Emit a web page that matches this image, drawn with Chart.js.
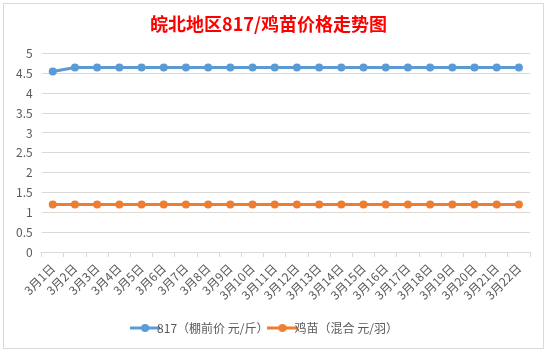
<!DOCTYPE html>
<html>
<head>
<meta charset="utf-8">
<script src="https://cdn.jsdelivr.net/npm/chart.js@4/dist/chart.umd.min.js"></script>
<style>
  html, body { margin: 0; padding: 0; background: #fff; }
  #wrap { position: absolute; left: 0; top: 0; width: 547px; height: 352px; }
</style>
</head>
<body>
<div id="wrap"><canvas id="c" width="547" height="352"></canvas></div>
<script>
const days = ['3月1日', '3月2日', '3月3日', '3月4日', '3月5日', '3月6日', '3月7日', '3月8日',
  '3月9日', '3月10日', '3月11日', '3月12日', '3月13日', '3月14日', '3月15日', '3月16日',
  '3月17日', '3月18日', '3月19日', '3月20日', '3月21日', '3月22日'];
const price817 = [4.55, 4.65, 4.65, 4.65, 4.65, 4.65, 4.65, 4.65, 4.65, 4.65, 4.65,
  4.65, 4.65, 4.65, 4.65, 4.65, 4.65, 4.65, 4.65, 4.65, 4.65, 4.65];
const priceChick = [1.2, 1.2, 1.2, 1.2, 1.2, 1.2, 1.2, 1.2, 1.2, 1.2, 1.2,
  1.2, 1.2, 1.2, 1.2, 1.2, 1.2, 1.2, 1.2, 1.2, 1.2, 1.2];
const seriesNames = ['817（棚前价 元/斤）', '鸡苗（混合 元/羽）'];
const yTicks = [0, 0.5, 1, 1.5, 2, 2.5, 3, 3.5, 4, 4.5, 5];

const FONT = "'Noto Sans CJK SC', 'Noto Sans', sans-serif";
const BLUE = '#5b9bd5';
const ORANGE = '#ed7d31';

// legend marker: short line with a dot in the middle
function legendIcon(color) {
  const c = document.createElement('canvas');
  c.width = 30; c.height = 10;
  const g = c.getContext('2d');
  g.strokeStyle = color; g.lineWidth = 3;
  g.beginPath(); g.moveTo(0, 5); g.lineTo(30, 5); g.stroke();
  g.fillStyle = color;
  g.beginPath(); g.arc(15, 5, 4, 0, Math.PI * 2); g.fill();
  return c;
}

const frame = {
  id: 'frame',
  beforeDraw(chart) {
    const g = chart.ctx;
    g.save();
    g.fillStyle = '#fff';
    g.fillRect(0, 0, chart.width, chart.height);
    g.strokeStyle = '#d9d9d9';
    g.lineWidth = 1;
    g.strokeRect(3.5, 3.5, chart.width - 7, chart.height - 7);
    g.restore();
  }
};

function makeDataset(name, values, color) {
  return {
    label: name,
    data: values,
    borderColor: color,
    backgroundColor: color,
    borderWidth: 3,
    pointRadius: 4,
    pointStyle: 'circle',
    pointBackgroundColor: color,
    pointBorderWidth: 0,
    tension: 0
  };
}

new Chart(document.getElementById('c'), {
  type: 'line',
  data: {
    labels: days,
    datasets: [
      makeDataset(seriesNames[0], price817, BLUE),
      makeDataset(seriesNames[1], priceChick, ORANGE)
    ]
  },
  options: {
    responsive: false,
    animation: false,
    layout: { padding: { left: 7, right: 17, top: 6, bottom: 8 } },
    plugins: {
      title: {
        display: true,
        text: '皖北地区817/鸡苗价格走势图',
        color: '#ff0000',
        font: { family: FONT, size: 18, weight: 'bold' },
        padding: { top: 7, bottom: 19 }
      },
      legend: {
        position: 'bottom',
        labels: {
          color: '#595959',
          font: { family: FONT, size: 12 },
          usePointStyle: true,
          padding: 8,
          generateLabels: (chart) => chart.data.datasets.map((ds, i) => ({
            text: ds.label,
            fillStyle: ds.borderColor,
            strokeStyle: ds.borderColor,
            fontColor: '#595959',
            pointStyle: legendIcon(ds.borderColor),
            datasetIndex: i,
            hidden: false
          }))
        }
      },
      tooltip: { enabled: false }
    },
    scales: {
      x: {
        offset: true,
        afterFit: (axis) => { axis.height = 62; },
        grid: { display: true, drawOnChartArea: false, drawTicks: true, tickLength: 5, color: '#d9d9d9', offset: true },
        border: { display: true, color: '#d9d9d9' },
        ticks: { color: '#595959', font: { family: FONT, size: 12 }, minRotation: 45, maxRotation: 45, autoSkip: false, padding: 4 }
      },
      y: {
        min: 0,
        max: 5,
        afterBuildTicks: (axis) => { axis.ticks = yTicks.map(v => ({ value: v })); },
        grid: { color: '#d9d9d9', drawTicks: false },
        border: { display: false },
        ticks: {
          color: '#595959',
          font: { family: FONT, size: 12 },
          padding: 9,
          callback: (v) => String(v)
        }
      }
    }
  },
  plugins: [frame]
});
</script>
</body>
</html>
